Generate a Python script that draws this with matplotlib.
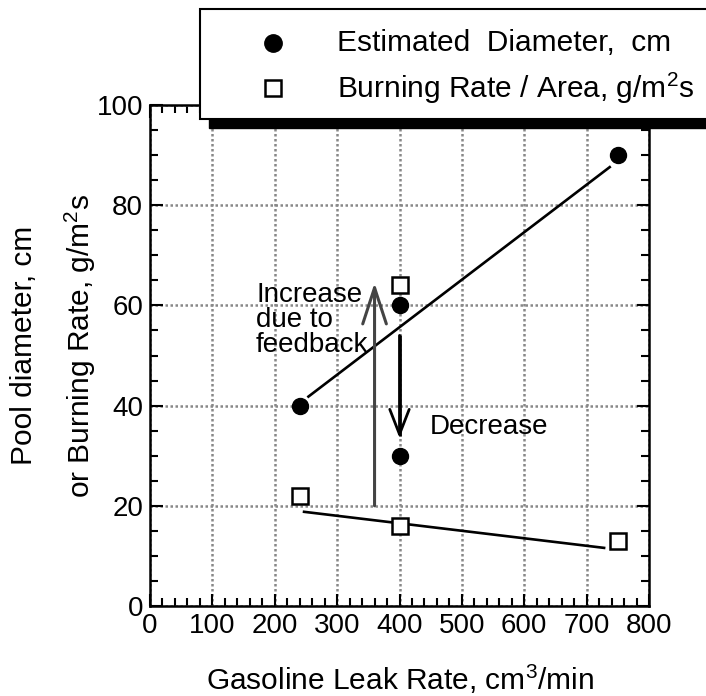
import matplotlib
matplotlib.use("Agg")
import matplotlib.pyplot as plt
from matplotlib.patches import Rectangle
from matplotlib.lines import Line2D

plt.rcParams['font.family'] = ['Liberation Sans', 'DejaVu Sans']
plt.rcParams['mathtext.fontset'] = 'custom'
plt.rcParams['mathtext.rm'] = 'Liberation Sans'
plt.rcParams['mathtext.it'] = 'Liberation Sans'

# donnees
leak_diam = [240, 400, 400, 750]
diam = [40, 60, 30, 90]
leak_rate = [240, 400, 400, 750]
burn_rate = [22, 64, 16, 13]

# droites tracees a la main dans l'original
diam_line_x = [254, 737]
diam_line_y = [41.8, 87.6]
rate_line_x = [247, 728]
rate_line_y = [18.8, 11.6]

W, H = 706, 696
fs = 20      # graduations et annotations
fs_lab = 21.5  # titres d'axes et legende


def px(x, y):
    return x / W, 1 - y / H


fig = plt.figure(figsize=(W / 100, H / 100), dpi=100)
ax = fig.add_axes([150 / W, 1 - 606 / H, 499 / W, 501 / H])

ax.plot(diam_line_x, diam_line_y, color='black', lw=1.9, zorder=3)
ax.plot(rate_line_x, rate_line_y, color='black', lw=1.9, zorder=3)
ax.plot(leak_diam, diam, 'o', color='black', ms=11.5, zorder=4, clip_on=False)
ax.plot(leak_rate, burn_rate, 's', mfc='white', mec='black', mew=1.8, ms=11, zorder=4, clip_on=False)

# fleches
ax.annotate('', xy=(360, 64.5), xytext=(360, 20), zorder=5,
            arrowprops=dict(arrowstyle='->,head_length=2.6,head_width=0.85', color='#444444',
                            lw=2.2, mutation_scale=10, shrinkA=0, shrinkB=0))
ax.plot([400, 400], [54, 34], color='black', lw=2.0, zorder=5, solid_capstyle='butt')
ax.annotate('', xy=(400, 33.5), xytext=(400, 54), zorder=5,
            arrowprops=dict(arrowstyle='->,head_length=1.8,head_width=0.7', color='black',
                            lw=2.0, mutation_scale=10, shrinkA=0, shrinkB=0))
ax.text(170, 57.1, "Increase\ndue to\nfeedback", fontsize=fs, va='center', ha='left',
        linespacing=0.97, zorder=6)
ax.text(449, 35.7, "Decrease", fontsize=fs, va='center', ha='left')

ax.set_xlim(0, 800)
ax.set_ylim(0, 100)
ax.set_xticks(range(0, 801, 100))
ax.set_yticks(range(0, 101, 20))
ax.set_xticks(range(0, 801, 20), minor=True)
ax.set_yticks(range(0, 101, 5), minor=True)
ax.tick_params(which='both', direction='in', top=True, right=True, width=1.5, labelsize=fs, pad=5)
ax.tick_params(which='major', length=9)
ax.tick_params(which='minor', length=6)
ax.grid(True, which='major', color='#888888', ls=(0, (1, 1)), lw=1.8)
for s in ax.spines.values():
    s.set_linewidth(1.8)

fig.text(*px(24, 345), "Pool diameter, cm", rotation=90, fontsize=fs_lab, ha='center', va='center')
fig.text(*px(80, 346), "or Burning Rate, g/m$^2$s", rotation=90, fontsize=fs_lab, ha='center', va='center')
fig.text(*px(400, 679), "Gasoline Leak Rate, cm$^3$/min", fontsize=fs_lab, ha='center', va='center')

# boite de legende avec ombre
x0, y0 = px(209, 128)
x1, y1 = px(740, 18)
fig.patches.append(Rectangle((x0, y0), x1 - x0, y1 - y0, transform=fig.transFigure,
                             facecolor='black', edgecolor='black', zorder=10))
x0, y0 = px(200, 119)
x1, y1 = px(740, 9)
fig.patches.append(Rectangle((x0, y0), x1 - x0, y1 - y0, transform=fig.transFigure,
                             facecolor='white', edgecolor='black', lw=1.5, zorder=11))
mx, my = px(273, 43)
fig.add_artist(Line2D([mx], [my], marker='o', color='black', ms=12.5, transform=fig.transFigure, zorder=12))
mx, my = px(273, 88)
fig.add_artist(Line2D([mx], [my], marker='s', mfc='white', mec='black', mew=1.8, ms=11,
                      transform=fig.transFigure, zorder=12))
fig.text(*px(337, 43), "Estimated  Diameter,  cm", fontsize=fs_lab, va='center', zorder=12)
fig.text(*px(337, 88), "Burning Rate / Area, g/m$^2$s", fontsize=fs_lab, va='center', zorder=12)

fig.savefig("out.png", dpi=100)
